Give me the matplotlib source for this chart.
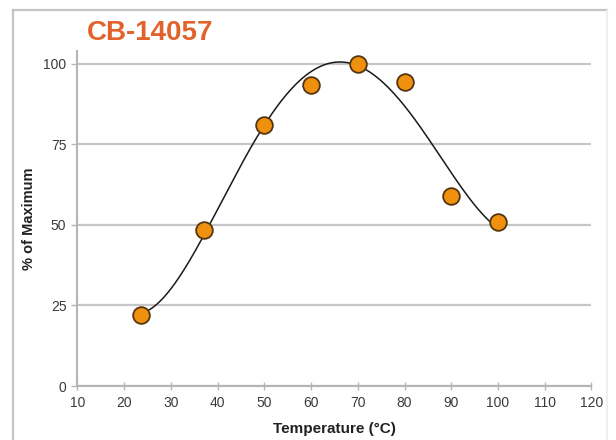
import numpy as np
import matplotlib
matplotlib.use("Agg")
import matplotlib.pyplot as plt
from matplotlib.lines import Line2D

temperature = [23.5, 37, 50, 60, 70, 80, 90, 100]
pct_max = [22, 48.5, 81, 93.5, 100, 94.5, 59, 51]
x_ticks = list(range(10, 121, 10))
y_ticks = [0, 25, 50, 75, 100]

plt.rcParams['font.family'] = ['Liberation Sans', 'DejaVu Sans']

fig = plt.figure(figsize=(6.16, 4.4), dpi=100)
ax = fig.add_axes([0.1258, 0.1227, 0.8344, 0.7613])

# trendline (polynomial fit over data range)
coef = np.polyfit(temperature, pct_max, 4)
xs = np.linspace(min(temperature), max(temperature), 300)
ax.plot(xs, np.polyval(coef, xs), color='#1a1a1a', lw=1.1, zorder=3)

ax.plot(temperature, pct_max, 'o', ms=12, mfc='#f0900f', mec='#553510',
        mew=1.3, zorder=4, clip_on=False)

ax.set_xlim(10, 120)
ax.set_ylim(0, 104)
ax.set_xticks(x_ticks)
ax.set_yticks(y_ticks)
ax.yaxis.grid(True, color='#c6c6c6', lw=1.6)
ax.set_axisbelow(True)

for s in ['top', 'right']:
    ax.spines[s].set_visible(False)
for s in ['left', 'bottom']:
    ax.spines[s].set_color('#b5b5b5')
    ax.spines[s].set_linewidth(1.5)

ax.tick_params(axis='x', direction='inout', length=6, width=1, color='#b5b5b5',
               labelsize=10, labelcolor='#3a3a3a', pad=4)
ax.tick_params(axis='y', direction='out', length=4, width=1, color='#b5b5b5',
               labelsize=10, labelcolor='#3a3a3a', pad=4)

ax.set_xlabel('Temperature (°C)', fontsize=11, fontweight='bold', labelpad=9, color='#222222')
ax.set_ylabel('% of Maximum', fontsize=10.5, fontweight='bold', labelpad=5, color='#222222')

fig.text(87 / 616, 1 - 33 / 440, 'CB-14057', fontsize=20, fontweight='bold',
         color='#e2622c', va='center', ha='left')

# outer frame
fig.add_artist(Line2D([13 / 616, 13 / 616], [0, 1 - 10 / 440], transform=fig.transFigure,
                      color='#c4c4c4', lw=1.6))
fig.add_artist(Line2D([13 / 616, 607 / 616], [1 - 10 / 440, 1 - 10 / 440], transform=fig.transFigure,
                      color='#c4c4c4', lw=1.6))
fig.add_artist(Line2D([607 / 616, 607 / 616], [0, 1 - 10 / 440], transform=fig.transFigure,
                      color='#ececec', lw=1.2))

fig.savefig('out.png', dpi=100)
